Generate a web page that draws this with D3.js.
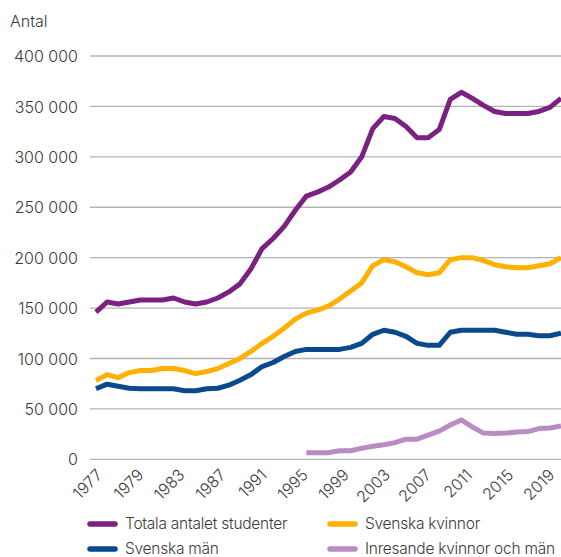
<!DOCTYPE html>
<html>
<head>
<meta charset="utf-8">
<script src="https://cdn.jsdelivr.net/npm/d3@7"></script>
<style>
  html, body { margin: 0; padding: 0; background: #fff; }
  svg { display: block; }
  text { font-family: Inter, "Noto Sans", sans-serif; fill: #3a3a3a; }
</style>
</head>
<body>
<svg id="chart" width="561" height="557"></svg>
<script>
const years = d3.range(1977, 2020);

const totala = [146, 156, 154, 156, 158, 158, 158, 160, 156, 154, 156, 160, 166, 174, 189, 209, 219, 231, 247, 261, 265, 270, 277, 285, 300, 328, 340, 338, 330, 319, 319, 327, 357, 364, 358, 351, 345, 343, 343, 343, 345, 349, 358].map(v => v * 1000);

const kvinnor = [78, 84, 81, 86, 88, 88, 90, 90, 88, 85, 87, 90, 95, 100, 107, 115, 122, 130, 139, 145, 148, 152, 159, 167, 175, 192, 198, 196, 191, 185, 183, 185, 198, 200, 200, 197, 193, 191, 190, 190, 192, 194, 200].map(v => v * 1000);

const man = [70, 74.5, 72.5, 70.5, 70, 70, 70, 70, 68, 68, 70, 70.5, 73.5, 78.5, 84, 92, 96, 102, 107, 109, 109, 109, 109, 111, 115, 124, 128, 126, 122, 115, 113, 113, 126, 128, 128, 128, 128, 126, 124, 124, 122.5, 122.5, 125].map(v => v * 1000);

const inresande = [null, null, null, null, null, null, null, null, null, null, null, null, null, null, null, null, null, null, null,
  6.5, 6.5, 6.6, 8.5, 8.5, 11, 13, 14.5, 16.5, 20, 20, 24, 28, 34, 39, 32, 26, 25.5, 26, 27, 27.5, 30.5, 31, 33].map(v => v == null ? null : v * 1000);

const xTickLabels = ["1977", "1979", "1983", "1987", "1991", "1995", "1999", "2003", "2007", "2011", "2015", "2019"];
const yTicks = [0, 50000, 100000, 150000, 200000, 250000, 300000, 350000, 400000];

const seriesNames = ["Totala antalet studenter", "Svenska kvinnor", "Svenska män", "Inresande kvinnor och män"];
const seriesColors = ["#7b2182", "#ffb000", "#0a4a8c", "#b98cc3"];
const seriesValues = [totala, kvinnor, man, inresande];

const svg = d3.select("#chart");

const x = d3.scalePoint().domain(years).range([96, 561]);
const xLab = d3.scalePoint().domain(xTickLabels).range([103, 555]);
const y = d3.scaleLinear().domain([0, 400000]).range([459.3, 56]);

const fmt = v => v === 0 ? "0" : d3.format(",")(v).replace(/,/g, " ");

// grid + y labels
const yAxis = d3.axisLeft(y).tickValues(yTicks).tickSize(0).tickFormat(fmt);
const gy = svg.append("g").attr("transform", "translate(78,0)").call(yAxis);
gy.select(".domain").remove();
gy.selectAll("text").attr("x", 0).attr("dy", "0.35em")
  .style("font-size", "16px").style("font-weight", 300)
  .style("font-family", "Inter, sans-serif").attr("fill", "#3a3a3a");

svg.append("g").selectAll("line").data(yTicks).join("line")
  .attr("x1", 90).attr("x2", 561)
  .attr("y1", d => y(d)).attr("y2", d => y(d))
  .attr("stroke", "#b3b3b3").attr("stroke-width", 1.3);

svg.append("text").attr("x", 10).attr("y", 27).text("Antal")
  .style("font-size", "16px").style("font-weight", 300);

// x labels
const xAxis = d3.axisBottom(xLab).tickSize(0);
const gx = svg.append("g").attr("transform", "translate(0,476)").call(xAxis);
gx.select(".domain").remove();
gx.selectAll("text")
  .attr("text-anchor", "end").attr("y", 0).attr("dy", 0)
  .attr("transform", "rotate(-45)")
  .style("font-size", "16px").style("font-weight", 300)
  .style("font-family", "Inter, sans-serif").attr("fill", "#3a3a3a");

// lines
const line = d3.line()
  .defined(d => d.v != null)
  .x(d => x(d.year))
  .y(d => y(d.v));

seriesValues.forEach((vals, i) => {
  const data = years.map((yr, j) => ({ year: yr, v: vals[j] }));
  svg.append("path").datum(data)
    .attr("fill", "none")
    .attr("stroke", seriesColors[i])
    .attr("stroke-width", 5)
    .attr("stroke-linejoin", "round")
    .attr("d", line);
});

// legend
const legendPos = [[88, 524], [328, 524], [88, 549], [328, 549]];
seriesNames.forEach((name, i) => {
  const [lx, ly] = legendPos[i];
  svg.append("line").attr("x1", lx + 2).attr("x2", lx + 27).attr("y1", ly).attr("y2", ly)
    .attr("stroke", seriesColors[i]).attr("stroke-width", 5.5).attr("stroke-linecap", "round");
  svg.append("text").attr("x", lx + 37).attr("y", ly).attr("dy", "0.35em").text(name)
    .style("font-size", "15.5px").style("font-weight", 300).style("letter-spacing", "-0.25px");
});
</script>
</body>
</html>
